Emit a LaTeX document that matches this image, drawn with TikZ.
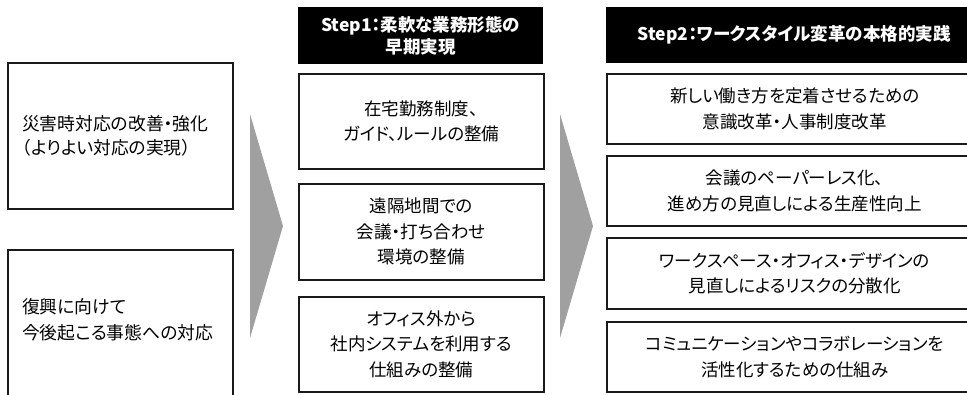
\documentclass[tikz,border=0pt]{standalone}
\usepackage{fontspec}
\setmainfont{Noto Sans CJK JP}[RawFeature=+palt]
\definecolor{arrowgray}{HTML}{A0A0A0}
\definecolor{linecol}{HTML}{1A1A1A}
\begin{document}
\begin{tikzpicture}[x=1pt,y=-1pt,
  box/.style={draw=linecol, line width=1.6pt, fill=white, inner sep=0pt, align=center,
    anchor=north west, font=\fontsize{17.5}{25.5}\selectfont},
  head/.style={fill=black, text=white, inner sep=0pt, align=center, anchor=north west,
    font=\fontsize{17.5}{22}\selectfont\bfseries},
  ltext/.style={anchor=west, align=left, inner sep=0pt, font=\fontsize{17.8}{23.5}\selectfont},
  chevron/.style={fill=arrowgray, draw=none}]
\useasboundingbox (0,0) rectangle (967,394);
\clip (0,0) rectangle (967,394);

% left column
\node[box, minimum width=225pt, minimum height=146pt] (l1) at (7,62) {};
\node[ltext] (l1t) at (22,136) {災害時対応の改善・強化\\（よりよい対応の実現）};
\node[box, minimum width=225pt, minimum height=190pt] (l2) at (7,249) {};
\node[ltext, font=\fontsize{17.8}{25.5}\selectfont] (l2t) at (22,320) {復興に向けて\\今後起こる事態への対応};

% arrows
\fill[chevron] (250,114) coordinate (a1t) -- (283,226) coordinate (a1p) -- (250,338) coordinate (a1b) -- cycle;
\fill[chevron] (560,114) coordinate (a2t) -- (593,226) coordinate (a2p) -- (560,338) coordinate (a2b) -- cycle;

% Step1
\node[head, minimum width=245pt, minimum height=57pt] (h1) at (298,7) {Step1：柔軟な業務形態の\\早期実現};
\node[box, minimum width=245pt, minimum height=95pt] (s1a) at (298,73) {在宅勤務制度、\\ガイド、ルールの整備};
\node[box, minimum width=245pt, minimum height=96pt] (s1b) at (298,183) {遠隔地間での\\会議・打ち合わせ\\環境の整備};
\node[box, minimum width=245pt, minimum height=95pt] (s1c) at (298,296) {オフィス外から\\社内システムを利用する\\仕組みの整備};

% Step2
\node[head, minimum width=376pt, minimum height=56pt] (h2) at (606,7) {Step2：ワークスタイル変革の本格的実践};
\node[box, minimum width=376pt, minimum height=70pt] (s2a) at (606,73) {新しい働き方を定着させるための\\意識改革・人事制度改革};
\node[box, minimum width=376pt, minimum height=70pt] (s2b) at (606,155) {会議のペーパーレス化、\\進め方の見直しによる生産性向上};
\node[box, minimum width=376pt, minimum height=71pt] (s2c) at (606,237) {ワークスペース・オフィス・デザインの\\見直しによるリスクの分散化};
\node[box, minimum width=376pt, minimum height=70pt] (s2d) at (606,321) {コミュニケーションやコラボレーションを\\活性化するための仕組み};
\end{tikzpicture}
\end{document}
